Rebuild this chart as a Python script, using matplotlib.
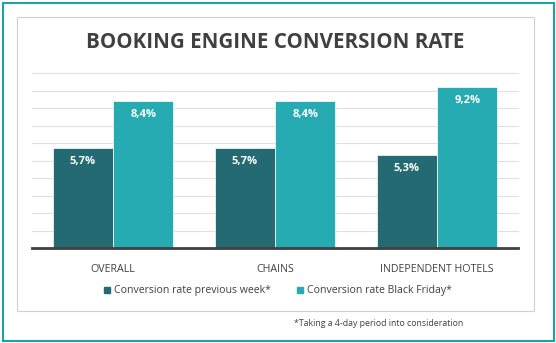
import numpy as np
import matplotlib
matplotlib.use("Agg")
import matplotlib.pyplot as plt
from matplotlib.patches import Rectangle, Patch

plt.rcParams['font.family'] = ['Open Sans', 'DejaVu Sans']

categories = ['OVERALL', 'CHAINS', 'INDEPENDENT HOTELS']
prev_week = [5.7, 5.7, 5.3]
black_friday = [8.4, 8.4, 9.2]
prev_labels = ['5,7%', '5,7%', '5,3%']
bf_labels = ['8,4%', '8,4%', '9,2%']
series_names = ['Conversion rate previous week*', 'Conversion rate Black Friday*']

dark = '#246a73'
light = '#26abb2'
teal_border = '#1ba3aa'
text_col = '#404040'

W, H = 556, 343
fig = plt.figure(figsize=(W / 100, H / 100), dpi=100)

# outer teal frame and inner gray box (pixel coords converted to figure fraction)
fig.patches.append(Rectangle((2.5 / W, 2.5 / H), 551 / W, 338 / H, transform=fig.transFigure,
                             fill=False, edgecolor=teal_border, linewidth=1.5))
fig.patches.append(Rectangle((17.3 / W, 1 - 310.7 / H), 516.4 / W, 293.7 / H, transform=fig.transFigure,
                             fill=False, edgecolor='#d0d0d0', linewidth=0.8))

ax = fig.add_axes([32 / W, 1 - 248.3 / H, 486 / W, 175.3 / H])

x = np.arange(len(categories))
w = 0.373
b1 = ax.bar(x - w / 2, prev_week, w, color=dark, edgecolor='white', linewidth=0.5, zorder=3)
b2 = ax.bar(x + w / 2, black_friday, w, color=light, edgecolor='white', linewidth=0.5, zorder=3)

for bars, labels in ((b1, prev_labels), (b2, bf_labels)):
    for rect, lab in zip(bars, labels):
        ax.text(rect.get_x() + rect.get_width() / 2, rect.get_height() - 0.77, lab,
                ha='center', va='center', color='white', fontsize=8, fontweight='bold', zorder=4)

ax.set_xlim(-0.5, 2.5)
ax.set_ylim(0, 10)
ax.set_yticks(np.arange(0, 11, 1))
ax.yaxis.grid(True, color='#e0e0e0', linewidth=0.8, zorder=0)
ax.tick_params(axis='y', left=False, labelleft=False)
ax.tick_params(axis='x', bottom=False, labelsize=7.7, labelcolor=text_col, pad=8)
ax.set_xticks(x)
ax.set_xticklabels(categories)
for side in ('left', 'right', 'top'):
    ax.spines[side].set_visible(False)
ax.spines['bottom'].set_color(text_col)
ax.spines['bottom'].set_linewidth(2)
ax.spines['bottom'].set_zorder(5)
for gl in ax.get_ygridlines():
    gl.set_clip_on(False)

handles = [Patch(color=dark), Patch(color=light)]
fig.legend(handles, series_names, loc='center', bbox_to_anchor=(278 / W, 1 - 291 / H),
           ncol=2, frameon=False, fontsize=7.6, handlelength=0.55, handleheight=0.55,
           handletextpad=0.4, columnspacing=2.5, labelcolor=text_col)

fig.text(275 / W, 1 - 42.7 / H, 'BOOKING ENGINE CONVERSION RATE', ha='center', va='center',
         fontsize=14.8, fontweight='bold', color=text_col)
fig.text(294 / W, 1 - 324 / H, '*Taking a 4-day period into consideration', ha='left', va='center',
         fontsize=6.3, color=text_col)

fig.savefig('out.png', dpi=100)
